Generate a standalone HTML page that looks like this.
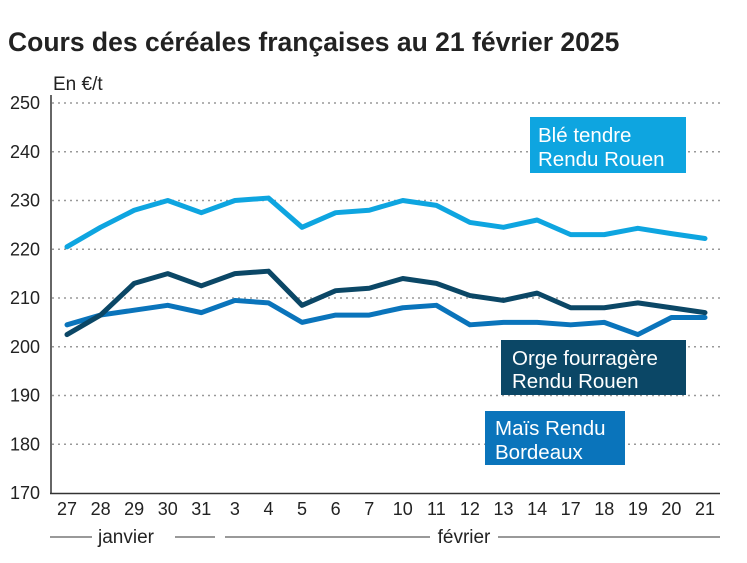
<!DOCTYPE html>
<html><head><meta charset="utf-8"><style>
body{margin:0;background:#fff;font-family:"Liberation Sans",sans-serif}
</style></head><body>
<svg width="747" height="558" xmlns="http://www.w3.org/2000/svg" style="font-family:'Liberation Sans',sans-serif">
<text x="8" y="51" font-size="26.5" font-weight="bold" fill="#222">Cours des céréales françaises au 21 février 2025</text>
<text x="53" y="90" font-size="19" fill="#222">En €/t</text>
<g id="grid"></g><g id="lines"></g><g id="xt"></g>
<line x1="51" y1="95" x2="51" y2="494" stroke="#333" stroke-width="1.5"/>
<line x1="50" y1="493.5" x2="720" y2="493.5" stroke="#333" stroke-width="1.5"/>
<line x1="50" y1="537" x2="92" y2="537" stroke="#333"/>
<line x1="175" y1="537" x2="215" y2="537" stroke="#333"/>
<text x="126" y="543" font-size="19" fill="#222" text-anchor="middle">janvier</text>
<line x1="225" y1="537" x2="430" y2="537" stroke="#333"/>
<line x1="498" y1="537" x2="720" y2="537" stroke="#333"/>
<text x="464" y="543" font-size="19" fill="#222" text-anchor="middle">février</text>
<g><rect x="530" y="117" width="156" height="56" fill="#0ea5e0"/><text x="538" y="142" font-size="20.5" fill="#fff">Blé tendre</text><text x="538" y="166" font-size="20.5" fill="#fff">Rendu Rouen</text></g>
<g><rect x="501" y="340" width="185" height="55" fill="#0b4766"/><text x="512" y="365" font-size="20.5" fill="#fff">Orge fourragère</text><text x="512" y="388" font-size="20.5" fill="#fff">Rendu Rouen</text></g>
<g><rect x="485" y="411" width="140" height="54" fill="#0a74bb"/><text x="495" y="435" font-size="20.5" fill="#fff">Maïs Rendu</text><text x="495" y="459" font-size="20.5" fill="#fff">Bordeaux</text></g>
</svg>
<script>
const categories=["27","28","29","30","31","3","4","5","6","7","10","11","12","13","14","17","18","19","20","21"];
const ble=[220.5,224.5,228,230,227.5,230,230.5,224.5,227.5,228,230,229,225.5,224.5,226,223,223,224.3,223.2,222.2];
const orge=[202.5,206.5,213,215,212.5,215,215.5,208.5,211.5,212,214,213,210.5,209.5,211,208,208,209,208,207];
const mais=[204.5,206.5,207.5,208.5,207,209.5,209,205,206.5,206.5,208,208.5,204.5,205,205,204.5,205,202.5,206,206];
const yTicks=[170,180,190,200,210,220,230,240,250];
const NS="http://www.w3.org/2000/svg";
const x=i=>67+i*(638/(categories.length-1));
const y=v=>493-(v-170)*390/80;
function mk(t,a,p){const e=document.createElementNS(NS,t);for(const k in a)e.setAttribute(k,a[k]);p.appendChild(e);return e;}
const g=document.getElementById('grid');
yTicks.forEach(v=>{
 if(v>170){const l=mk('line',{x1:52,x2:720,y1:y(v),y2:y(v),stroke:'#999','stroke-width':1.5,'stroke-dasharray':'2,4'},g);
 
 }
 const t=mk('text',{x:40,y:y(v)+6,'font-size':18,fill:'#222','text-anchor':'end'},g);t.textContent=v;
 
 
});
const xt=document.getElementById('xt');
categories.forEach((c,i)=>{const t=mk('text',{x:x(i),y:515,'font-size':18,fill:'#222','text-anchor':'middle'},xt);t.textContent=c;
 
 });
const L=document.getElementById('lines');
[[mais,'#0a74bb','line-mais'],[orge,'#0b4766','line-orge'],[ble,'#0ea5e0','line-ble']].forEach(([d,c,n])=>{
 const p=mk('polyline',{points:d.map((v,i)=>x(i)+','+y(v)).join(' '),fill:'none',stroke:c,'stroke-width':5,'stroke-linejoin':'round','stroke-linecap':'round'},L);
 
 
});
</script>
</body></html>
